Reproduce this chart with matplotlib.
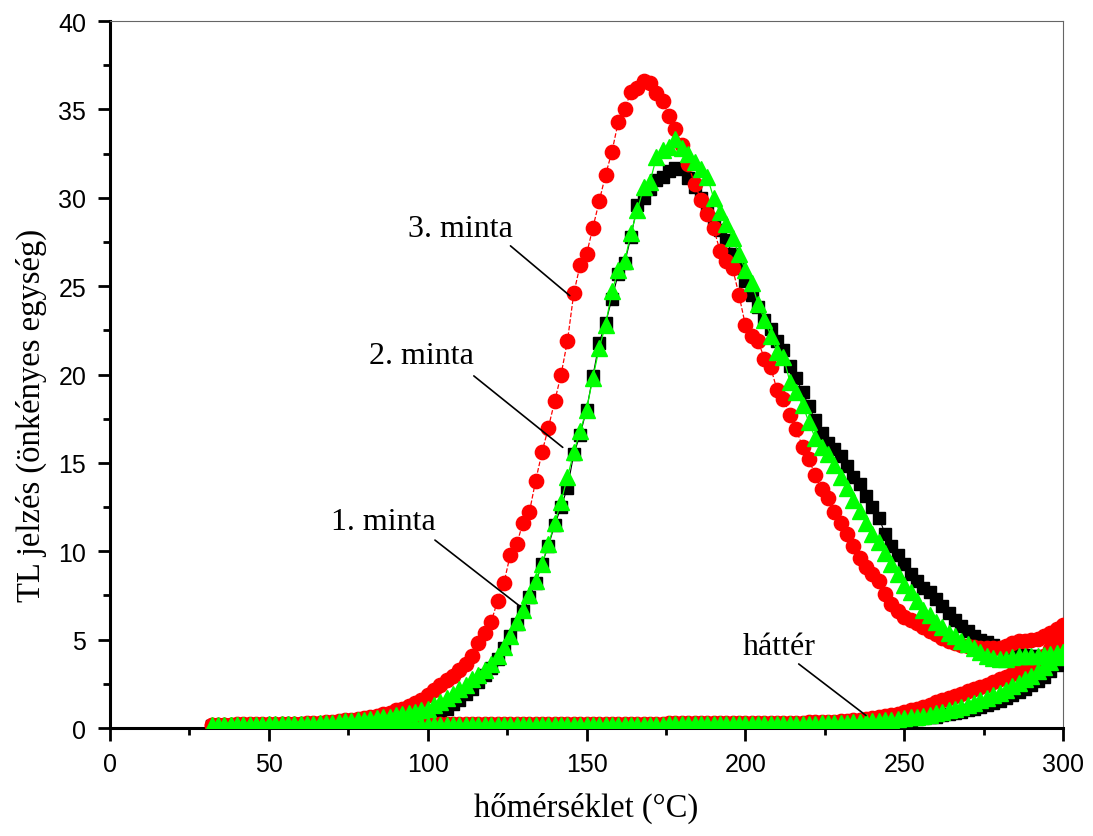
import numpy as np
import matplotlib.pyplot as plt

# temperature grid (deg C)
temp = [32, 34, 36, 38, 40, 42, 44, 46, 48, 50,
        52, 54, 56, 58, 60, 62, 64, 66, 68, 70,
        72, 74, 76, 78, 80, 82, 84, 86, 88, 90,
        92, 94, 96, 98, 100, 102, 104, 106, 108, 110,
        112, 114, 116, 118, 120, 122, 124, 126, 128, 130,
        132, 134, 136, 138, 140, 142, 144, 146, 148, 150,
        152, 154, 156, 158, 160, 162, 164, 166, 168, 170,
        172, 174, 176, 178, 180, 182, 184, 186, 188, 190,
        192, 194, 196, 198, 200, 202, 204, 206, 208, 210,
        212, 214, 216, 218, 220, 222, 224, 226, 228, 230,
        232, 234, 236, 238, 240, 242, 244, 246, 248, 250,
        252, 254, 256, 258, 260, 262, 264, 266, 268, 270,
        272, 274, 276, 278, 280, 282, 284, 286, 288, 290,
        292, 294, 296, 298, 300]

# 1. minta (black squares)
minta1 = [0.12, 0.13, 0.14, 0.14, 0.15, 0.15, 0.15, 0.16, 0.16, 0.16,
          0.17, 0.17, 0.18, 0.18, 0.19, 0.2, 0.21, 0.22, 0.24, 0.26,
          0.28, 0.3, 0.33, 0.36, 0.4, 0.43, 0.46, 0.5, 0.53, 0.56,
          0.6, 0.62, 0.65, 0.68, 0.72, 0.8, 0.95, 1.1, 1.35, 1.6,
          1.9, 2.2, 2.6, 3.0, 3.4, 3.9, 4.5, 5.2, 5.9, 6.6,
          7.4, 8.2, 9.3, 10.3, 11.5, 12.5, 13.6, 15.5, 16.6, 18.0,
          19.9, 21.8, 22.9, 24.3, 25.7, 26.3, 27.8, 29.6, 30.0, 30.5,
          31.0, 31.2, 31.5, 31.7, 31.6, 31.1, 30.6, 30.0, 29.5, 28.8,
          28.2, 27.6, 26.8, 26.0, 25.3, 24.5, 23.8, 23.1, 22.6, 21.9,
          21.4, 20.5, 19.8, 19.0, 18.2, 17.4, 16.7, 16.1, 15.8, 15.4,
          14.8, 14.2, 13.8, 13.1, 12.5, 11.9, 11.0, 10.3, 9.8, 9.3,
          8.7, 8.3, 7.9, 7.7, 7.3, 6.9, 6.5, 6.1, 5.8, 5.5,
          5.2, 5.0, 4.85, 4.7, 4.55, 4.4, 4.3, 4.2, 4.15, 4.1,
          4.05, 4.0, 4.0, 4.0, 4.0]

# 2. minta (green triangles)
minta2 = [0.15, 0.16, 0.17, 0.17, 0.18, 0.18, 0.18, 0.19, 0.19, 0.2,
          0.2, 0.21, 0.21, 0.22, 0.23, 0.24, 0.25, 0.27, 0.29, 0.31,
          0.34, 0.37, 0.4, 0.44, 0.48, 0.52, 0.56, 0.6, 0.65, 0.72,
          0.8, 0.85, 0.92, 1.0, 1.1, 1.3, 1.45, 1.7, 1.95, 2.2,
          2.45, 2.75, 3.0, 3.3, 3.6, 4.1, 4.6, 5.2, 6.0, 6.7,
          7.5, 8.3, 9.3, 10.4, 11.6, 12.8, 14.2, 15.6, 16.8, 18.0,
          19.8, 21.5, 22.8, 24.7, 25.9, 26.4, 28.0, 29.3, 30.6, 30.9,
          32.3, 32.7, 32.9, 33.3, 32.8, 32.5, 32.0, 31.6, 31.2, 30.0,
          29.2, 28.5, 27.7, 26.8, 25.9, 25.2, 24.0, 23.1, 22.2, 21.3,
          21.0, 19.6, 19.0, 18.3, 17.3, 16.4, 15.9, 15.5, 14.9, 14.2,
          13.6, 12.9, 12.3, 11.6, 11.0, 10.5, 9.9, 9.3, 8.7, 8.1,
          7.7, 7.2, 6.7, 6.4, 6.0, 5.7, 5.4, 5.2, 4.95, 4.75,
          4.5, 4.3, 4.1, 3.95, 3.9, 3.9, 4.0, 4.05, 4.1, 4.1,
          4.1, 4.15, 4.2, 4.25, 4.3]

# 3. minta (red circles)
minta3 = [0.15, 0.17, 0.18, 0.19, 0.2, 0.2, 0.2, 0.21, 0.21, 0.22,
          0.22, 0.23, 0.23, 0.24, 0.25, 0.26, 0.28, 0.3, 0.33, 0.36,
          0.4, 0.44, 0.48, 0.53, 0.58, 0.64, 0.7, 0.78, 0.87, 1.0,
          1.1, 1.25, 1.4, 1.6, 1.85, 2.15, 2.45, 2.7, 2.95, 3.3,
          3.6, 4.1, 4.8, 5.4, 6.0, 7.2, 8.2, 9.8, 10.4, 11.6,
          12.2, 14.0, 15.6, 17.0, 18.5, 20.0, 21.9, 24.6, 26.2, 26.8,
          28.3, 29.8, 31.3, 32.6, 34.3, 35.0, 36.0, 36.2, 36.6, 36.5,
          35.9, 35.5, 34.6, 33.9, 33.0, 31.9, 30.8, 29.9, 29.1, 28.3,
          27.0, 26.4, 26.0, 24.5, 22.8, 22.2, 21.9, 20.9, 20.4, 19.1,
          18.6, 17.7, 16.9, 15.9, 15.2, 14.3, 13.5, 13.0, 12.2, 11.6,
          11.0, 10.3, 9.6, 9.1, 8.7, 8.3, 7.6, 7.0, 6.6, 6.3,
          6.1, 5.95, 5.7, 5.5, 5.3, 5.1, 4.95, 4.8, 4.7, 4.65,
          4.6, 4.55, 4.5, 4.5, 4.55, 4.65, 4.8, 4.9, 4.95, 5.0,
          5.05, 5.2, 5.4, 5.6, 5.85]

# háttér (background) curves
hatter1 = [0.11, 0.12, 0.12, 0.13, 0.13, 0.13, 0.14, 0.14, 0.14, 0.14,
           0.15, 0.15, 0.15, 0.15, 0.15, 0.15, 0.15, 0.15, 0.15, 0.15,
           0.15, 0.15, 0.15, 0.16, 0.16, 0.16, 0.16, 0.16, 0.16, 0.16,
           0.16, 0.16, 0.16, 0.16, 0.16, 0.16, 0.16, 0.16, 0.16, 0.16,
           0.16, 0.16, 0.16, 0.16, 0.16, 0.16, 0.16, 0.16, 0.16, 0.16,
           0.16, 0.16, 0.16, 0.17, 0.17, 0.17, 0.17, 0.17, 0.17, 0.17,
           0.17, 0.17, 0.17, 0.17, 0.17, 0.17, 0.17, 0.17, 0.17, 0.17,
           0.17, 0.17, 0.18, 0.18, 0.18, 0.18, 0.18, 0.18, 0.18, 0.18,
           0.18, 0.18, 0.18, 0.18, 0.18, 0.19, 0.19, 0.19, 0.2, 0.2,
           0.2, 0.21, 0.21, 0.22, 0.22, 0.23, 0.23, 0.24, 0.25, 0.25,
           0.26, 0.27, 0.28, 0.3, 0.32, 0.34, 0.36, 0.39, 0.42, 0.45,
           0.48, 0.52, 0.56, 0.6, 0.65, 0.71, 0.77, 0.84, 0.92, 1.0,
           1.09, 1.19, 1.3, 1.42, 1.55, 1.7, 1.86, 2.03, 2.22, 2.43,
           2.65, 2.9, 3.2, 3.55, 3.95]

hatter2 = [0.13, 0.14, 0.14, 0.15, 0.15, 0.15, 0.16, 0.16, 0.16, 0.16,
           0.17, 0.17, 0.17, 0.17, 0.17, 0.17, 0.17, 0.17, 0.17, 0.17,
           0.17, 0.17, 0.17, 0.18, 0.18, 0.18, 0.18, 0.18, 0.18, 0.18,
           0.18, 0.18, 0.18, 0.18, 0.18, 0.18, 0.18, 0.18, 0.18, 0.18,
           0.18, 0.18, 0.18, 0.18, 0.18, 0.18, 0.18, 0.18, 0.18, 0.18,
           0.18, 0.18, 0.18, 0.19, 0.19, 0.19, 0.19, 0.19, 0.19, 0.19,
           0.19, 0.19, 0.19, 0.19, 0.19, 0.19, 0.19, 0.19, 0.19, 0.19,
           0.19, 0.19, 0.2, 0.2, 0.2, 0.2, 0.2, 0.2, 0.2, 0.2,
           0.2, 0.2, 0.2, 0.2, 0.2, 0.21, 0.21, 0.21, 0.22, 0.22,
           0.22, 0.23, 0.23, 0.24, 0.24, 0.25, 0.26, 0.27, 0.28, 0.29,
           0.3, 0.32, 0.34, 0.36, 0.38, 0.41, 0.44, 0.47, 0.5, 0.54,
           0.6, 0.65, 0.7, 0.76, 0.83, 0.91, 1.0, 1.1, 1.2, 1.31,
           1.43, 1.56, 1.7, 1.85, 2.0, 2.17, 2.35, 2.55, 2.75, 2.97,
           3.2, 3.45, 3.72, 4.0, 4.3]

hatter3 = [0.15, 0.16, 0.17, 0.17, 0.18, 0.18, 0.18, 0.19, 0.19, 0.19,
           0.19, 0.2, 0.2, 0.2, 0.2, 0.2, 0.2, 0.2, 0.2, 0.2,
           0.2, 0.2, 0.2, 0.2, 0.2, 0.2, 0.2, 0.2, 0.2, 0.2,
           0.2, 0.2, 0.2, 0.2, 0.2, 0.2, 0.2, 0.2, 0.2, 0.2,
           0.2, 0.2, 0.2, 0.2, 0.2, 0.2, 0.2, 0.2, 0.2, 0.2,
           0.2, 0.2, 0.21, 0.21, 0.21, 0.21, 0.22, 0.22, 0.22, 0.22,
           0.22, 0.23, 0.23, 0.23, 0.23, 0.24, 0.24, 0.24, 0.25, 0.25,
           0.25, 0.25, 0.26, 0.26, 0.26, 0.26, 0.26, 0.27, 0.27, 0.27,
           0.27, 0.27, 0.28, 0.28, 0.28, 0.29, 0.29, 0.29, 0.3, 0.3,
           0.3, 0.3, 0.31, 0.31, 0.32, 0.33, 0.34, 0.35, 0.36, 0.38,
           0.4, 0.43, 0.47, 0.51, 0.56, 0.62, 0.68, 0.75, 0.82, 0.9,
           1.0, 1.1, 1.2, 1.32, 1.45, 1.57, 1.7, 1.82, 1.95, 2.08,
           2.2, 2.33, 2.46, 2.6, 2.75, 2.9, 3.05, 3.2, 3.38, 3.56,
           3.8, 4.1, 4.45, 4.85, 5.3]

xticks = [0, 50, 100, 150, 200, 250, 300]
yticks = [0, 5, 10, 15, 20, 25, 30, 35, 40]

RED = '#ff0000'
GREEN = '#00ff00'
serif = 'Liberation Serif'
sans = 'Liberation Sans'

fig = plt.figure(figsize=(10.93, 8.37), dpi=100)
ax = fig.add_axes([0.1006, 0.129, 0.872, 0.8447])

# black
ax.plot(temp, minta1, '-', color='black', lw=0.8, marker='s', ms=8,
        mec='black', mfc='black', zorder=3)
ax.plot(temp, hatter1, '-', color='black', lw=0.8, marker='s', ms=8,
        mec='black', mfc='black', zorder=3)
# red
ax.plot(temp, minta3, '--', color=RED, lw=0.9, marker='o', ms=10.3,
        mec=RED, mfc=RED, zorder=4)
ax.plot(temp, hatter3, '--', color=RED, lw=0.9, marker='o', ms=10.3,
        mec=RED, mfc=RED, zorder=4)
# green
ax.plot(temp, minta2, '-', color=GREEN, lw=0.9, marker='^', ms=11,
        mec=GREEN, mfc=GREEN, zorder=5)
ax.plot(temp, hatter2, '-', color=GREEN, lw=0.9, marker='^', ms=11,
        mec=GREEN, mfc=GREEN, zorder=5)

# annotations
notes = [('3. minta', (110.2, 27.83), (125.4, 27.38), (145.4, 24.36)),
         ('2. minta', (97.9, 20.64), (113.85, 20.02), (143.2, 15.78)),
         ('1. minta', (86.2, 11.26), (101.6, 10.73), (129.9, 6.77)),
         ('háttér', (210.6, 4.19), (216.1, 3.72), (238.7, 0.61))]
for txt, pos, start, end in notes:
    ax.text(pos[0], pos[1], txt, fontsize=23, family=serif,
            ha='center', va='baseline', zorder=6)
    ax.annotate('', xy=end, xytext=start,
                arrowprops=dict(arrowstyle='-', color='black', lw=1.2),
                zorder=6)

ax.set_xlim(0, 300)
ax.set_ylim(0, 40)
ax.set_xticks(xticks)
ax.set_yticks(yticks)
ax.set_xticks(np.arange(25, 300, 50), minor=True)
ax.set_yticks(np.arange(2.5, 40, 5), minor=True)
for lab in ax.get_xticklabels() + ax.get_yticklabels():
    lab.set_family(sans)
ax.tick_params(which='major', direction='out', length=9, width=2,
               labelsize=18, pad=8)
ax.tick_params(which='minor', direction='out', length=5, width=2)
ax.tick_params(top=False, right=False, which='both')

for s in ['left', 'bottom']:
    ax.spines[s].set_linewidth(2.2)
for s in ['top', 'right']:
    ax.spines[s].set_linewidth(0.8)
    ax.spines[s].set_color('#666666')

ax.set_xlabel('hőmérséklet (°C)', fontsize=23.5, family=serif)
ax.set_ylabel('TL jelzés (önkényes egység)', fontsize=23.5, family=serif)
ax.xaxis.set_label_coords(0.5, -0.09)
ax.xaxis.label.set_va('top')
ax.yaxis.set_label_coords(-0.066, 0.443)

fig.savefig('out.png', dpi=100)
